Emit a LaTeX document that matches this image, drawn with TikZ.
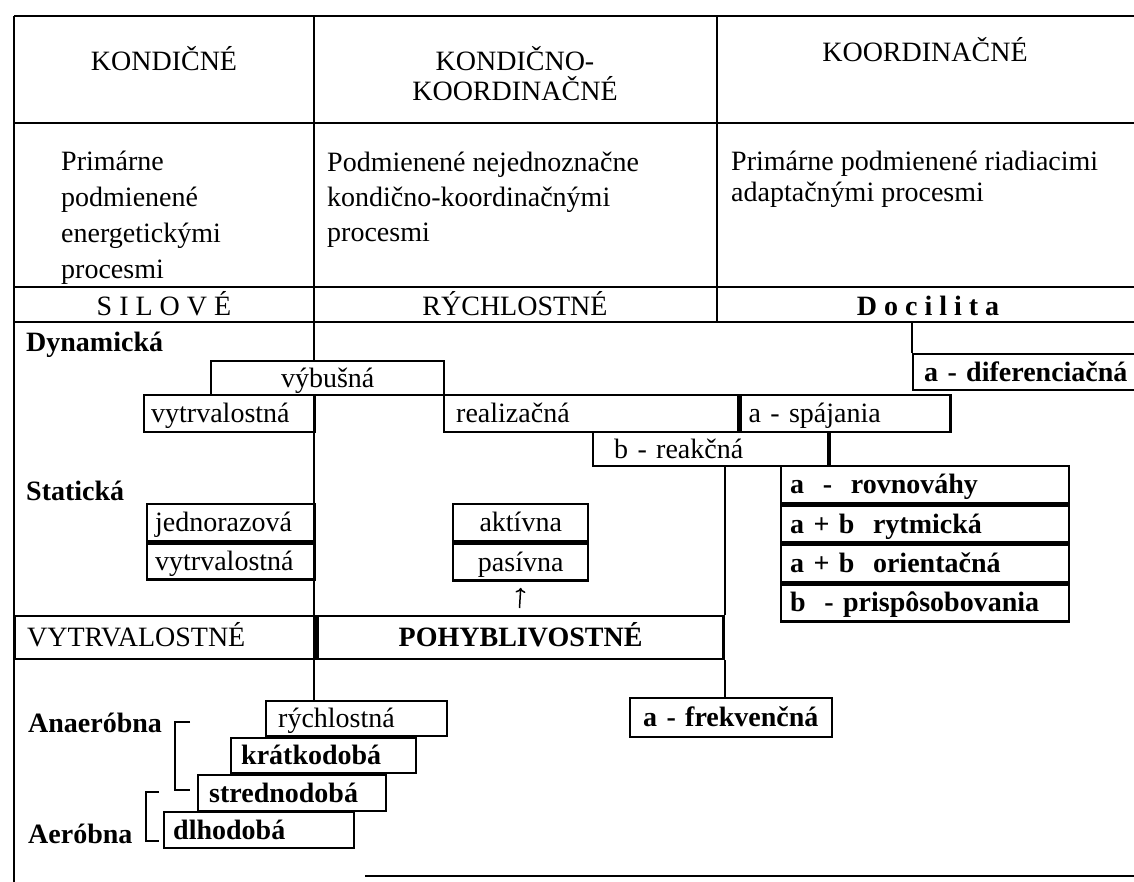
\documentclass[tikz,border=0pt]{standalone}
\usepackage{fontspec}
\setmainfont{Liberation Serif}
\usetikzlibrary{positioning, arrows.meta}

\tikzset{
  box/.style={draw, fill=white, anchor=north west, inner sep=0pt,
    text height=22pt, text depth=4pt},
  lbox/.style={box, align=left},
  heavy/.style={font=\fontsize{28}{34}\selectfont\bfseries},
  stackbox/.style={lbox, heavy, text width=270pt, inner xsep=9pt, minimum height=37pt},
  sidelabel/.style={anchor=base west, inner sep=0pt, heavy},
}

\begin{document}
\begin{tikzpicture}[x=1pt, y=-1pt, line width=2.4pt, font=\fontsize{28}{34}\selectfont]
    \useasboundingbox (0,0) rectangle (1134,882);

    \draw (14,16) coordinate (c0) -- (1140,16);
    \draw (c0) -- (14,890);
    \draw (14,123) -- (1140,123);
    \draw (14,287) -- (1140,287);
    \draw (14,322) -- (1140,322);
    \draw (717,16) -- (717,322);
    \draw (365,876) -- (1140,876);

    \node[anchor=base] (kond) at (164,71) {KONDIČNÉ};
    \node[anchor=north, align=center, inner sep=0pt, font=\fontsize{28}{30}\selectfont] (kondkoord) at (515,45) {KONDIČNO-\\KOORDINAČNÉ};
    \node[anchor=base] (koord) at (925,62) {KOORDINAČNÉ};

    \node[anchor=north west, align=left, inner sep=0pt, font=\fontsize{28}{36}\selectfont] (energ) at (60,150) {Primárne\\podmienené\\energetickými\\procesmi};
    \node[anchor=north west, align=left, inner sep=0pt, font=\fontsize{28}{35}\selectfont] (nejedn) at (326,151) {Podmienené nejednoznačne\\kondično-koordinačnými\\procesmi};
    \node[anchor=north west, align=left, inner sep=0pt, font=\fontsize{28}{31}\selectfont] (riad) at (730,150) {Primárne podmienené riadiacimi\\adaptačnými procesmi};

    \node[anchor=base] (silove) at (164,316) {S I L O V É};
    \node[anchor=base] (rychl) at (515,316) {RÝCHLOSTNÉ};
    \node[anchor=base, heavy] (docil) at (928,316) {D o c i l i t a};

    \node[sidelabel] (dyn) at (25,351) {Dynamická};
    \node[sidelabel] (stat) at (25,500) {Statická};

    \node[box, minimum width=233pt, minimum height=34pt] (vybusna) at (210,360) {výbušná};
    \node[lbox, text width=157pt, inner xsep=7pt, minimum height=37pt] (vytrdyn) at (143,394) {vytrvalostná};
    \node[lbox, text width=270pt, inner xsep=12pt, minimum height=37pt] (realiz) at (443,394) {realizačná};
    \node[lbox, text width=194pt, inner xsep=8pt, minimum height=37pt] (spajania) at (realiz.north east) {a - spájania};
    \node[lbox, text width=193pt, inner xsep=21pt, minimum height=34pt] (reakcna) at (592,431) {b - reakčná};
    \node[lbox, heavy, text width=215pt, inner xsep=11pt, minimum height=36pt] (diferenc) at (912,353) {a - diferenciačná};

    \node[stackbox] (rovnovahy) at (780,465) {a~~-~~rovnováhy};
    \node[stackbox] (rytmicka) at (rovnovahy.south west) {a + b~~rytmická};
    \node[stackbox] (orientacna) at (rytmicka.south west) {a + b~~orientačná};
    \node[stackbox] (prisposob) at (orientacna.south west) {b~~- prispôsobovania};

    \node[lbox, text width=152pt, inner xsep=8pt, minimum height=37pt] (jednoraz) at (146,503) {jednorazová};
    \node[lbox, text width=152pt, inner xsep=8pt, minimum height=36pt] (vytrstat) at (jednoraz.south west) {vytrvalostná};
    \node[box, minimum width=135pt, minimum height=37pt] (aktivna) at (452,503) {aktívna};
    \node[box, minimum width=135pt, minimum height=37pt] (pasivna) at (aktivna.south west) {pasívna};
    \coordinate (arrfoot) at (519.5,608);
    \draw[-{To[length=5pt, width=10pt]}, line width=1.5pt] (arrfoot) -- ([yshift=-6pt]pasivna.south);

    \node[lbox, text width=276pt, inner xsep=12pt, minimum height=43pt] (vytrrow) at (14,615) {VYTRVALOSTNÉ};
    \node[box, heavy, minimum width=406pt, minimum height=43pt] (pohybrow) at (vytrrow.north east) {POHYBLIVOSTNÉ};

    \node[lbox, heavy, text width=176pt, inner xsep=13pt, minimum height=39pt] (frekv) at (629,697) {a - frekvenčná};

    \node[lbox, text width=157pt, inner xsep=12pt, minimum height=35pt] (rychlostna) at (265,700) {rýchlostná};
    \node[lbox, heavy, text width=165pt, inner xsep=10pt, minimum height=35pt] (kratkodoba) at (230,737) {krátkodobá};
    \node[lbox, heavy, text width=166pt, inner xsep=11pt, minimum height=36pt] (strednodoba) at (197,774) {strednodobá};
    \node[lbox, heavy, text width=172pt, inner xsep=9pt, minimum height=36pt] (dlhodoba) at (163,811) {dlhodobá};

    \node[sidelabel] (anaer) at (27,732) {Anaeróbna};
    \node[sidelabel] (aerob) at (27,843) {Aeróbna};
    \draw[line width=1.6pt] (190,722) -- (175,722) -- (175,790) -- (190,790);
    \draw[line width=1.6pt] (159,792) -- (146,792) -- (146,841) -- (159,841);

    \draw (314,16) coordinate (c1) -- (c1 |- vybusna.north);
    \draw (c1 |- vybusna.south) -- (c1 |- rychlostna.north);
    \draw (912,322) coordinate (c3) -- (diferenc.north west);
    \draw (spajania.south -| reakcna.east) -- (rovnovahy.north -| reakcna.east);
    \draw (reakcna.south -| pohybrow.east) -- (pohybrow.north east);
    \draw (pohybrow.south east) -- (frekv.north -| pohybrow.east);
\end{tikzpicture}
\end{document}
